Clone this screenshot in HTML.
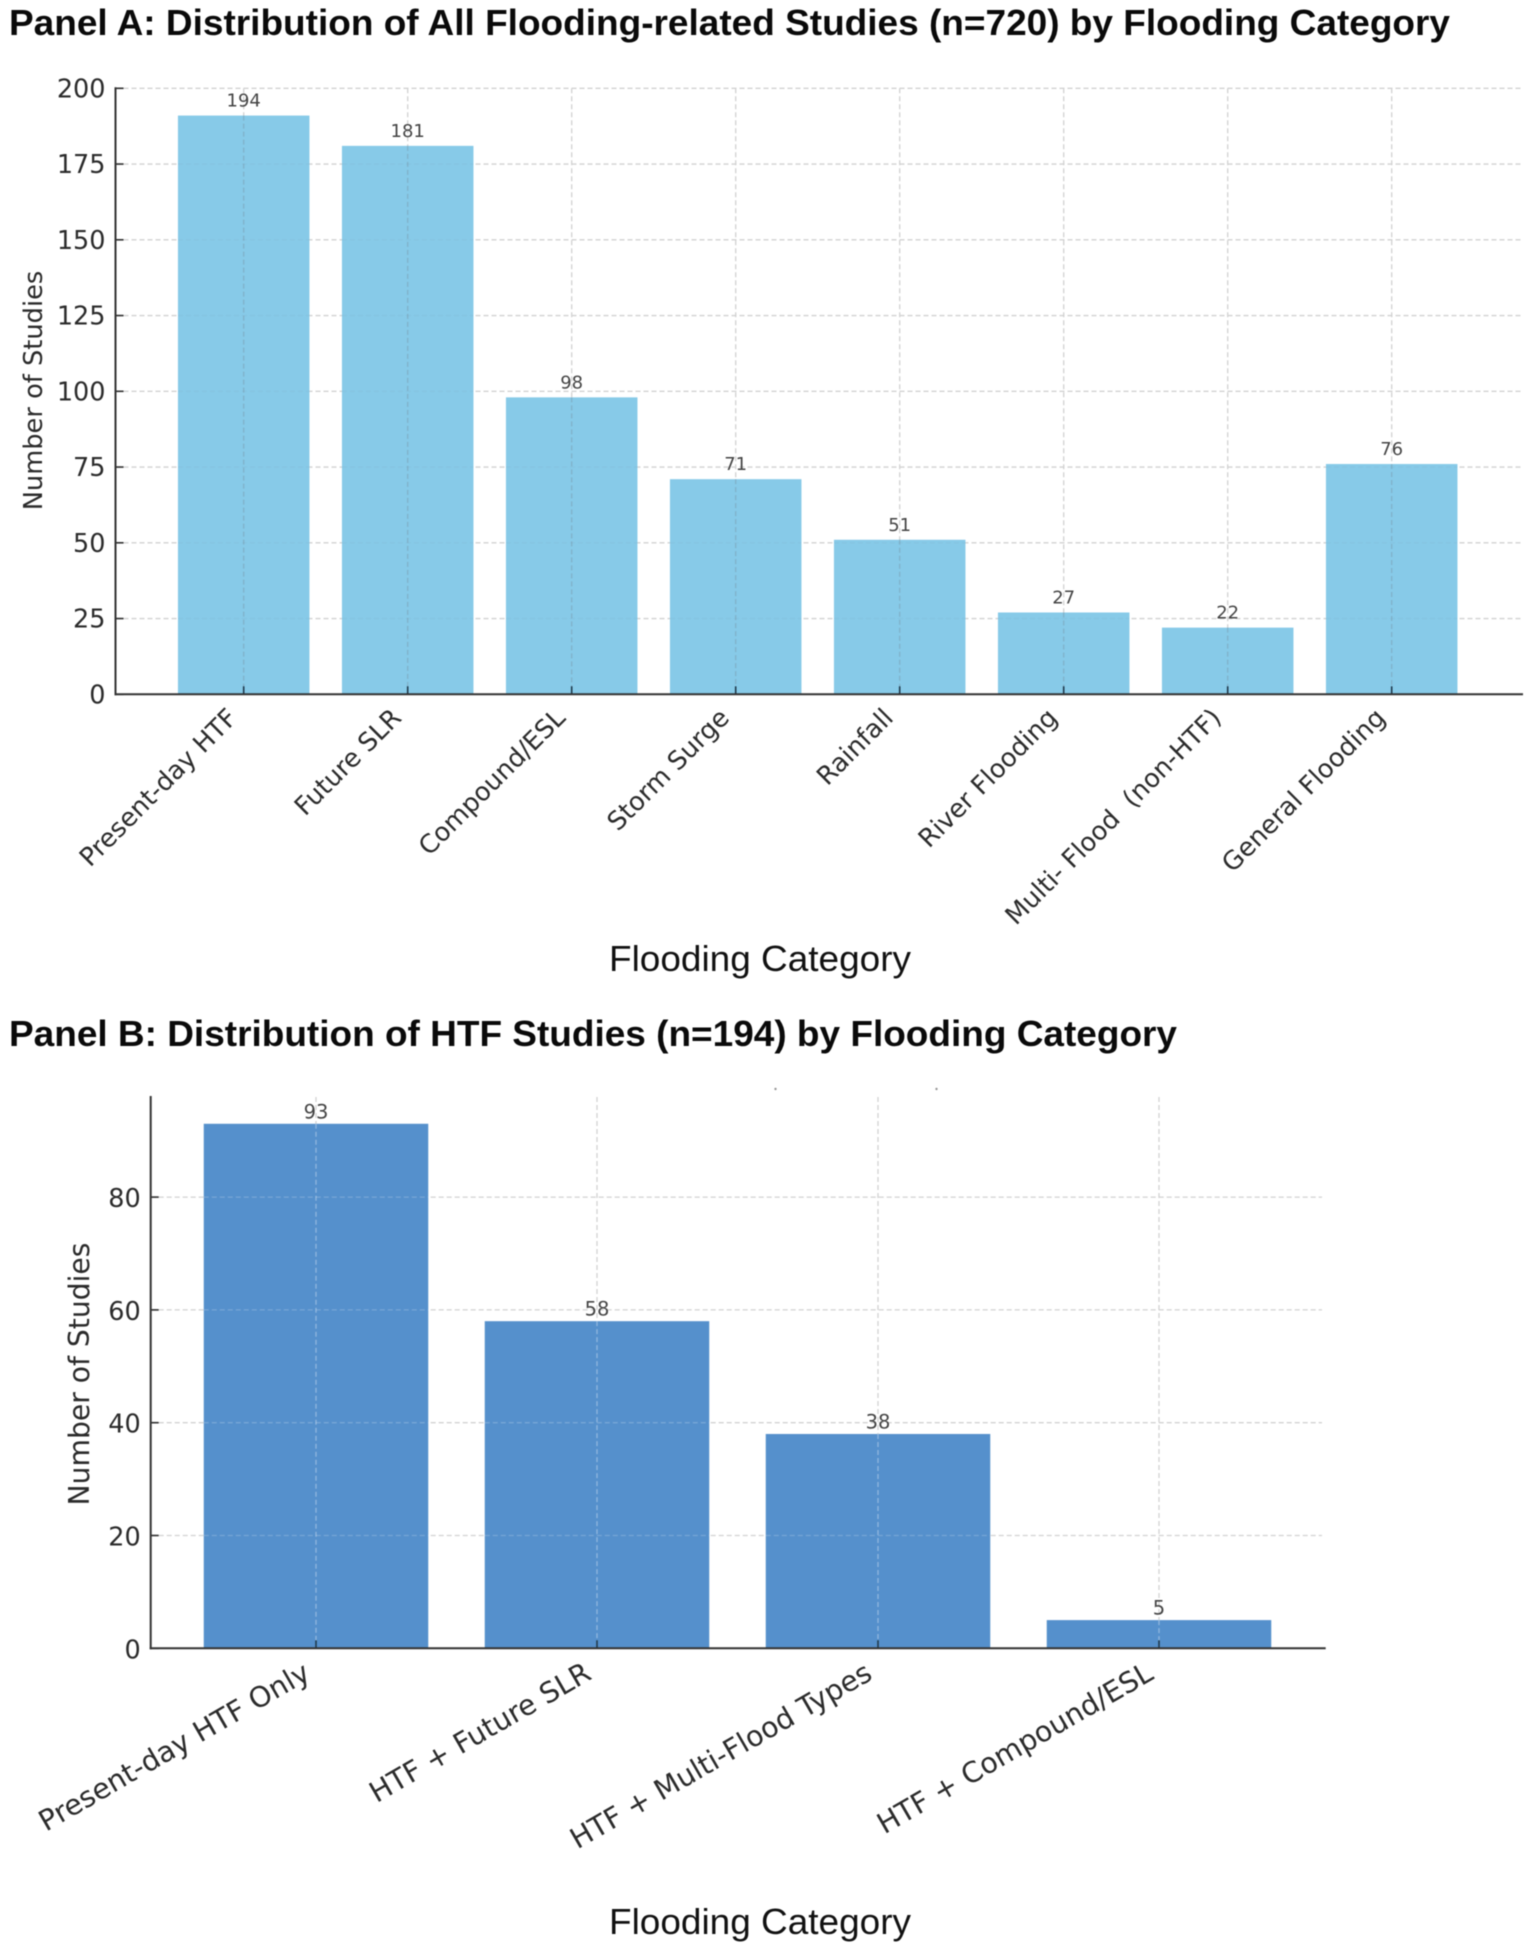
<!DOCTYPE html>
<html lang="en">
<head>
<meta charset="utf-8">
<title>Flooding Studies by Category</title>
<style>
html,body{margin:0;padding:0;background:#fff;}
svg{display:block;filter:blur(0.4px);}
.title{font-family:"Liberation Sans",sans-serif;font-weight:700;fill:#0a0a0a;font-size:36px;}
.xtitle{font-family:"Liberation Sans",sans-serif;fill:#111;font-size:36px;}
.dj{font-family:"DejaVu Sans",sans-serif;fill:#2b2b2b;white-space:pre;}
</style>
</head>
<body>
<svg id="chart" xmlns="http://www.w3.org/2000/svg" width="1535" height="1951" viewBox="0 0 1535 1951">
  <rect x="0" y="0" width="1535" height="1951" fill="#ffffff"/>
  <text class="title" x="9" y="35" textLength="1441" lengthAdjust="spacingAndGlyphs">Panel A: Distribution of All Flooding-related Studies (n=720) by Flooding Category</text>
  <text class="title" x="9" y="1046" textLength="1168" lengthAdjust="spacingAndGlyphs">Panel B: Distribution of HTF Studies (n=194) by Flooding Category</text>
  <text class="xtitle" x="760" y="971" text-anchor="middle" textLength="302" lengthAdjust="spacingAndGlyphs">Flooding Category</text>
  <text class="xtitle" x="760" y="1934" text-anchor="middle" textLength="302" lengthAdjust="spacingAndGlyphs">Flooding Category</text>
  <g id="panel-a"></g>
  <g id="panel-b"></g>
  <circle cx="775.5" cy="1089" r="1.2" fill="#999"/>
  <circle cx="936.5" cy="1089" r="1.2" fill="#999"/>
</svg>
<script>
// Panel A data
const categoriesA = ["Present-day HTF", "Future SLR", "Compound/ESL", "Storm Surge", "Rainfall", "River Flooding", "Multi- Flood  (non-HTF)", "General Flooding"];
const valuesA = [191, 181, 98, 71, 51, 27, 22, 76];
const printedA = ["194", "181", "98", "71", "51", "27", "22", "76"];
const yTicksA = [0, 25, 50, 75, 100, 125, 150, 175, 200];

// Panel B data
const categoriesB = ["Present-day HTF Only", "HTF + Future SLR", "HTF + Multi-Flood Types", "HTF + Compound/ESL"];
const valuesB = [93, 58, 38, 5];
const printedB = ["93", "58", "38", "5"];
const yTicksB = [0, 20, 40, 60, 80];

const NS = "http://www.w3.org/2000/svg";
function make(parent, tag) {
  const el = document.createElementNS(NS, tag);
  parent.appendChild(el);
  return el;
}
function put(el, props) {
  for (const k in props) el.setAttribute(k, props[k]);
  return el;
}

function drawPanel(root, categories, values, printed, yTicks, c) {
  const y = v => c.y0 - (v - 0) * c.yUnit;
  const x = i => c.x0 + i * c.step;
  const half = c.barW / 2;
  const plotTop = c.top !== undefined ? c.top : y(yTicks[yTicks.length - 1]);

  // gridlines behind bars
  yTicks.forEach(t => {
    if (t === 0) return;
    const g = make(root, "line");
    
    
    put(g, {x1: c.axisX, x2: c.gridEnd, y1: y(t), y2: y(t), stroke: "#d2d2d2", "stroke-width": 1.3, "stroke-dasharray": "5 3"});
  });
  categories.forEach((_, i) => {
    const g = make(root, "line");
    
    
    put(g, {x1: x(i), x2: x(i), y1: plotTop, y2: c.y0, stroke: "#d2d2d2", "stroke-width": 1.3, "stroke-dasharray": "5 3"});
  });

  // bars
  values.forEach((v, i) => {
    const b = make(root, "rect");
    
    
    put(b, {x: x(i) - half, y: y(v), width: c.barW, height: c.y0 - y(v), fill: c.barColor});
  });

  // grid showing through bars
  values.forEach((v, i) => {
    const o = make(root, "line");
    
    
    put(o, {x1: x(i), x2: x(i), y1: y(v), y2: c.y0, stroke: c.overV, "stroke-width": 1.3, "stroke-dasharray": c.overDash});
    yTicks.forEach(t => {
      if (t === 0 || t >= v) return;
      const h = make(root, "line");
      
      
      put(h, {x1: x(i) - half, x2: x(i) + half, y1: y(t), y2: y(t), stroke: c.overH, "stroke-width": 1.3, "stroke-dasharray": "5 3"});
    });
  });

  // y ticks + labels
  yTicks.forEach(t => {
    const k = make(root, "line");
    
    
    put(k, {x1: c.axisX, x2: c.axisX + 8, y1: y(t), y2: y(t), stroke: "#2f2f2f", "stroke-width": 1.6});
    const l = make(root, "text");
    
    
    put(l, {class: "dj", x: c.axisX - 10, y: y(t) + c.yLabelDy, "text-anchor": "end", "font-size": c.yFont});
    l.textContent = String(t);
  });

  // x ticks + rotated labels
  categories.forEach((name, i) => {
    const k = make(root, "line");
    
    
    put(k, {x1: x(i), x2: x(i), y1: c.y0 - 8, y2: c.y0, stroke: "#1f3a4d", "stroke-width": 1.6});
    const l = make(root, "text");
    
    
    const ax = x(i) + c.labelDx, ay = c.y0 + c.labelDy;
    put(l, {class: "dj", x: ax, y: ay, "text-anchor": "end", "font-size": c.xFont, transform: "rotate(" + (-c.angle) + " " + ax + " " + ay + ")"});
    l.textContent = name;
  });

  // printed values
  values.forEach((v, i) => {
    const l = make(root, "text");
    
    
    put(l, {class: "dj", x: x(i), y: y(v) - c.valGap, "text-anchor": "middle", "font-size": c.valFont, style: "fill:#444"});
    l.textContent = printed[i];
  });

  // axes
  const ya = make(root, "line");
  
  
  put(ya, {x1: c.axisX, x2: c.axisX, y1: plotTop - 1, y2: c.y0 + 1, stroke: "#333", "stroke-width": 2});
  const xa = make(root, "line");
  
  
  put(xa, {x1: c.axisX - 1, x2: c.axisEnd, y1: c.y0, y2: c.y0, stroke: "#333", "stroke-width": 2});

  // y axis title
  const t = make(root, "text");
  
  
  put(t, {class: "dj", x: c.yTitleX, y: c.yTitleY, "text-anchor": "middle", "font-size": c.yTitleFont, transform: "rotate(-90 " + c.yTitleX + " " + c.yTitleY + ")"});
  t.textContent = "Number of Studies";
}

drawPanel(document.getElementById("panel-a"), categoriesA, valuesA, printedA, yTicksA, {
  y0: 694.3, yUnit: 3.03, x0: 243.7, step: 164, barW: 131.5, axisX: 115.5, gridEnd: 1521, axisEnd: 1523,
  barColor: "#87caE8", overV: "rgba(110,120,130,0.30)", overH: "rgba(120,130,140,0.07)", overDash: "5 3",
  yFont: 25.5, yLabelDy: 9, xFont: 25.6, angle: 45, labelDx: -5, labelDy: 25, valFont: 18, valGap: 9,
  yTitleX: 42, yTitleY: 390.5, yTitleFont: 25.7
});
drawPanel(document.getElementById("panel-b"), categoriesB, valuesB, printedB, yTicksB, {
  y0: 1648.3, yUnit: 5.64, x0: 316, step: 281, barW: 224.5, axisX: 150.7, gridEnd: 1322, axisEnd: 1325.7, top: 1097,
  barColor: "#5590cc", overV: "rgba(255,255,255,0.35)", overH: "rgba(255,255,255,0.20)", overDash: "5 3",
  yFont: 25.5, yLabelDy: 10, xFont: 28.4, angle: 30, labelDx: -4, labelDy: 30, valFont: 19.5, valGap: 5.5,
  yTitleX: 89, yTitleY: 1374, yTitleFont: 28.2
});
</script>
</body>
</html>
